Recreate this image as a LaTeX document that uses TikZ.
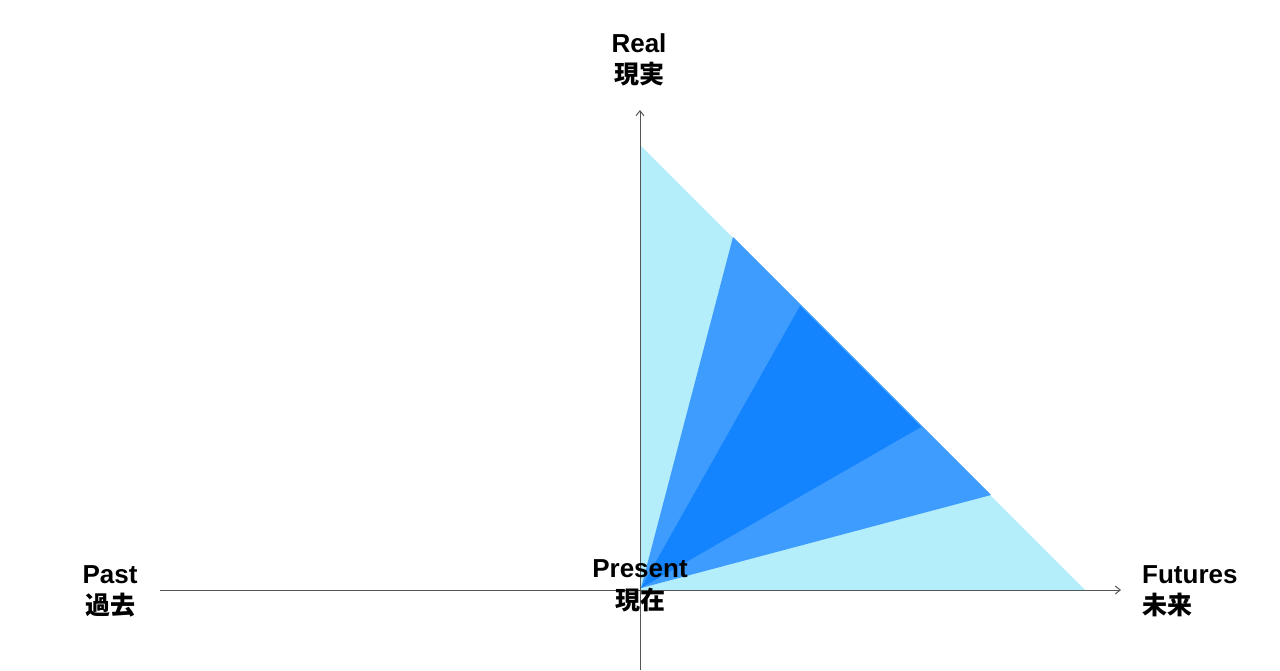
\documentclass[tikz,border=0pt]{standalone}
\usepackage{fontspec}
\setmainfont{Liberation Sans}
\newfontfamily\cjk{Noto Sans CJK JP}
\usetikzlibrary{arrows.meta}
\definecolor{lightc}{HTML}{B5EEFB}
\definecolor{midc}{HTML}{3E9CFE}
\definecolor{darkc}{HTML}{1484FE}
\definecolor{axisc}{HTML}{555555}
\begin{document}
\begin{tikzpicture}[x=1pt,y=-1pt,
  axis/.style={draw=axisc,line width=1pt,-{Straight Barb[length=5pt,width=8pt]}},
  lbl/.style={font=\fontsize{26}{30}\selectfont\bfseries,inner sep=0pt,anchor=base},
  lblj/.style={font=\fontsize{25}{30}\selectfont\cjk\bfseries,inner sep=0pt,anchor=base}]
\useasboundingbox[fill=white] (0,0) rectangle (1280,670);
\coordinate (O) at (641,588);
\coordinate (T) at (640,145);
\coordinate (R) at (1085,590);
\coordinate (C) at (640,590);
\coordinate (m1) at (733,237);
\coordinate (m2) at (991,495);
\coordinate (d1) at (800,306);
\coordinate (d2) at (921,427);
\fill[lightc] (C) -- (T) -- (R) -- cycle;
\fill[midc] (O) -- (m1) -- (m2) -- cycle;
\fill[darkc] (O) -- (d1) -- (d2) -- cycle;
\coordinate (xs) at (160,590);
\coordinate (xe) at (1121,590);
\coordinate (ys) at (640,670);
\coordinate (ye) at (640,110);
\draw[axis] (xs) -- (xe);
\draw[axis] (ys) -- (ye);
\node[lbl] (real) at (639,52) {Real};
\node[lblj] (realj) at (639,83) {現実};
\node[lbl] (past) at (110,583) {Past};
\node[lblj] (pastj) at (110,614) {過去};
\node[lbl] (pres) at (640,577) {Present};
\node[lblj] (presj) at (640,609) {現在};
\node[lbl,anchor=base west] (fut) at (1142,583) {Futures};
\node[lblj,anchor=base west] (futj) at (1142,614) {未来};
\end{tikzpicture}
\end{document}
